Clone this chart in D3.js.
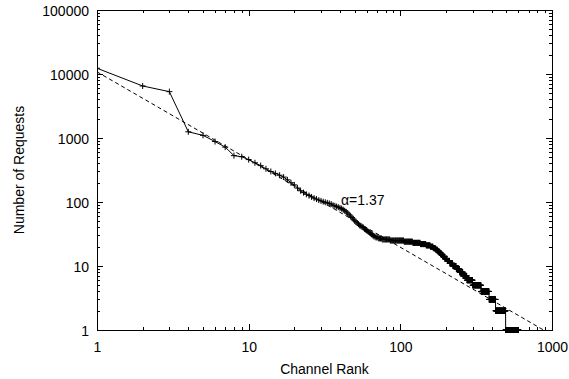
<!DOCTYPE html>
<html><head><meta charset="utf-8">
<script src="https://cdn.jsdelivr.net/npm/d3@7"></script>
<style>
body{margin:0;background:#fff}
svg{display:block}
text{font-family:"Liberation Sans",Arial,Helvetica,sans-serif;font-size:14px;fill:#000}
</style>
</head><body>
<svg id="c" width="569" height="379"></svg>
<script>
// ranks 1..62, individual values
const headValues = [12300, 6500, 5300, 1250, 1100, 880, 720, 530, 510, 460,
  410, 370, 330, 300, 280, 262, 245, 222, 200, 185,
  165, 150, 140, 132, 126, 120, 115, 111, 107, 104,
  101, 99, 97, 95, 93, 89, 87, 85, 83, 81,
  79, 76, 73, 70, 67, 63, 60, 57, 54, 51,
  49, 47, 45, 43, 42, 41, 40, 38, 37, 36, 35, 34];
// from rank 63 on: runs of equal request counts
const tailValues = [33, 32, 31, 30, 29, 28, 27, 26, 25, 24, 23, 22, 21, 20, 19, 18, 17, 16, 15, 14, 13, 12, 11, 10, 9, 8, 7, 6, 5, 4, 3, 2, 1];
const tailCounts = [1, 1, 1, 1, 2, 3, 4, 10, 20, 15, 15, 12, 10, 7, 6, 5, 5, 5, 5, 6, 7, 8, 10, 12, 12, 13, 16, 25, 41, 44, 40, 70, 106];
const xTickLabels = ["1", "10", "100", "1000"];
const yTickLabels = ["1", "10", "100", "1000", "10000", "100000"];
const fitC = 10800, fitAlpha = 1.37;
const fitLabel = "α=1.37";
const xTitle = "Channel Rank", yTitle = "Number of Requests";

const points = headValues.map((v, i) => ({r: i + 1, v}));
let rank = headValues.length + 1;
tailValues.forEach((v, k) => { for (let j = 0; j < tailCounts[k]; j++) points.push({r: rank++, v}); });

const L = 97, R = 552, T = 10, B = 330;
const svg = d3.select("#c");
const x = d3.scaleLog().domain([1, 1000]).range([L, R]);
const y = d3.scaleLog().domain([1, 100000]).range([B, T]);

const xMajor = xTickLabels.map(Number);
const yMajor = yTickLabels.map(Number);
const minorOf = (majors) => { const a = []; majors.slice(0, -1).forEach(m => { for (let k = 2; k <= 9; k++) a.push(m * k); }); return a; };
const xMinor = minorOf(xMajor), yMinor = minorOf(yMajor);

function styleAxis(g) {
  g.select(".domain").remove();
  g.selectAll("line").attr("stroke", "#000").attr("stroke-width", 1).attr("shape-rendering", "crispEdges");
  g.selectAll("text").attr("font-family", null).attr("font-size", null).attr("fill", "#000");
}
const fmtX = (d, i) => xTickLabels[i], fmtY = (d, i) => yTickLabels[i];

// bottom
svg.append("g").attr("transform", `translate(0,${B})`)
  .call(d3.axisBottom(x).tickValues(xMajor).tickFormat(fmtX).tickSize(-6).tickPadding(12)).call(styleAxis);
svg.append("g").attr("transform", `translate(0,${B})`)
  .call(d3.axisBottom(x).tickValues(xMinor).tickFormat("").tickSize(-3)).call(styleAxis);
// top
svg.append("g").attr("transform", `translate(0,${T})`)
  .call(d3.axisTop(x).tickValues(xMajor).tickFormat("").tickSize(-6)).call(styleAxis);
svg.append("g").attr("transform", `translate(0,${T})`)
  .call(d3.axisTop(x).tickValues(xMinor).tickFormat("").tickSize(-3)).call(styleAxis);
// left
svg.append("g").attr("transform", `translate(${L},0)`)
  .call(d3.axisLeft(y).tickValues(yMajor).tickFormat(fmtY).tickSize(-6).tickPadding(8)).call(styleAxis)
  .selectAll("text").attr("dy", "0.36em");
svg.append("g").attr("transform", `translate(${L},0)`)
  .call(d3.axisLeft(y).tickValues(yMinor).tickFormat("").tickSize(-3)).call(styleAxis);
// right
svg.append("g").attr("transform", `translate(${R},0)`)
  .call(d3.axisRight(y).tickValues(yMajor).tickFormat("").tickSize(-6)).call(styleAxis);
svg.append("g").attr("transform", `translate(${R},0)`)
  .call(d3.axisRight(y).tickValues(yMinor).tickFormat("").tickSize(-3)).call(styleAxis);

// frame
svg.append("rect").attr("x", L).attr("y", T).attr("width", R - L).attr("height", B - T)
  .attr("fill", "none").attr("stroke", "#000").attr("stroke-width", 1).attr("shape-rendering", "crispEdges");

// clip
svg.append("clipPath").attr("id", "clip").append("rect").attr("x", L).attr("y", T).attr("width", R - L).attr("height", B - T + 4);

const plot = svg.append("g").attr("clip-path", "url(#clip)");

// fit line
const rEnd = Math.pow(fitC, 1 / fitAlpha);
const fitPts = [1, rEnd].map(r => ({r, v: fitC * Math.pow(r, -fitAlpha)}));
plot.append("path").datum(fitPts)
  .attr("d", d3.line().x(d => x(d.r)).y(d => y(d.v)))
  .attr("fill", "none").attr("stroke", "#000").attr("stroke-width", 1).attr("stroke-dasharray", "4,3");

// data line
plot.append("path").datum(points)
  .attr("d", d3.line().x(d => x(d.r)).y(d => y(d.v)))
  .attr("fill", "none").attr("stroke", "#000").attr("stroke-width", 1);

// markers
plot.append("g").selectAll("path").data(points).join("path")
  .attr("transform", d => `translate(${x(d.r)},${y(d.v)})`)
  .attr("d", "M-3,0H3M0,-3V3")
  .attr("stroke", "#000").attr("stroke-width", 1).attr("fill", "none");

// annotation
svg.append("text").attr("x", x(40.6)).attr("y", y(90)).text(fitLabel);

// titles
svg.append("text").attr("x", (L + R) / 2).attr("y", 374).attr("text-anchor", "middle").text(xTitle);
svg.append("text").attr("transform", `translate(24,${(T + B) / 2}) rotate(-90)`).attr("text-anchor", "middle").text(yTitle);
</script>
</body></html>
